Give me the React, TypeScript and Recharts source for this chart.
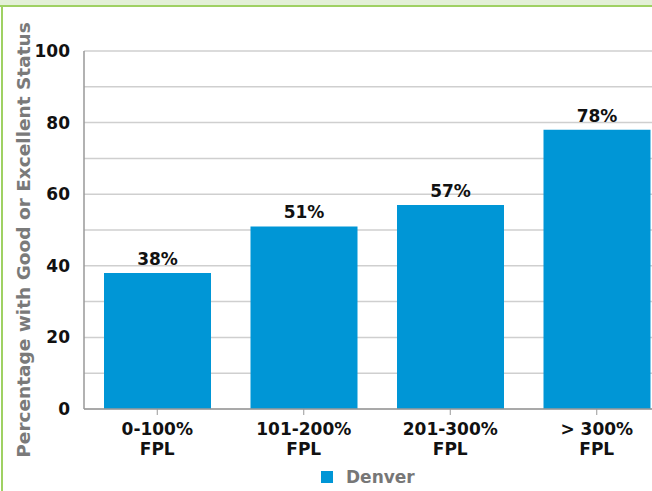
import React from "react";
import { BarChart, Bar, XAxis, YAxis, CartesianGrid, LabelList, Legend } from "recharts";

const categories = ["0-100%|FPL", "101-200%|FPL", "201-300%|FPL", "> 300%|FPL"];
const denverValues = [38, 51, 57, 78];
const yTicks = [0, 20, 40, 60, 80, 100];
const gridTicks = [0, 10, 20, 30, 40, 50, 60, 70, 80, 90, 100];
const seriesName = "Denver";
const yLabel = "Percentage with Good or Excellent Status";

const data = categories.map((c, i) => ({ cat: c, value: denverValues[i] }));

const FONT = "'DejaVu Sans', sans-serif";
const BLUE = "#0096d6";

const XTick = (props: any) => {
  const { x, y, payload } = props;
  const lines = String(payload.value).split("|");
  return (
    <text x={x} y={y} textAnchor="middle" fontFamily={FONT} fontWeight="bold" fontSize={17} fill="#111">
      {lines.map((l, i) => (
        <tspan key={i} x={x} dy={i === 0 ? 18 : 20}>
          {l}
        </tspan>
      ))}
    </text>
  );
};

const LegendContent = () => (
  <div style={{ paddingLeft: 321, display: "flex", alignItems: "center", fontFamily: FONT }}>
    <span style={{ display: "inline-block", width: 12, height: 12, background: BLUE, marginRight: 13 }} />
    <span style={{ fontWeight: "bold", fontSize: 17, color: "#777" }}>{seriesName}</span>
  </div>
);

export default function App() {
  return (
    <div style={{ position: "absolute", left: 0, top: 0, width: 652, height: 491, overflow: "hidden", background: "#fff" }}>
      <div style={{ position: "absolute", left: 0, top: 0, width: 652, height: 5, background: "#e3f0d7" }} />
      <div style={{ position: "absolute", left: 0, top: 5, width: 652, height: 2, background: "#9fd163" }} />
      <div style={{ position: "absolute", left: 1, top: 5, width: 2, height: 486, background: "#9fd163" }} />
      <div style={{ position: "absolute", left: 0, top: 0 }}>
        <BarChart
          width={670}
          height={491}
          data={data}
          margin={{ top: 51, right: 0, left: 0, bottom: 0 }}
          barCategoryGap={20}
        >
          <CartesianGrid vertical={false} stroke="#cfcfcf" strokeWidth={1.5} />
          <XAxis
            dataKey="cat"
            height={58}
            tick={<XTick />}
            tickLine={{ stroke: "#999" }}
            axisLine={{ stroke: "#999", strokeWidth: 1.5 }}
            interval={0}
          />
          <YAxis
            width={84}
            domain={[0, 100]}
            ticks={gridTicks}
            tickFormatter={(v: number) => (yTicks.includes(v) ? String(v) : "")}
            tick={{ fontFamily: FONT, fontWeight: "bold", fontSize: 17, fill: "#111" }}
            tickLine={false}
            axisLine={{ stroke: "#999", strokeWidth: 1.5 }}
            tickMargin={8}
            label={{
              value: yLabel,
              angle: -90,
              position: "insideLeft",
              offset: 0,
              dx: 23,
              dy: 10,
              style: { textAnchor: "middle", fontFamily: FONT, fontWeight: "bold", fontSize: 18.5, fill: "#7a7a7a" },
            }}
          />
          <Legend verticalAlign="bottom" height={24} content={<LegendContent />} />
          <Bar dataKey="value" name={seriesName} fill={BLUE} isAnimationActive={false}>
            <LabelList
              dataKey="value"
              position="top"
              offset={8}
              formatter={(v: any) => `${v}%`}
              style={{ fontFamily: FONT, fontWeight: "bold", fontSize: 17, fill: "#111" }}
            />
          </Bar>
        </BarChart>
      </div>
    </div>
  );
}
